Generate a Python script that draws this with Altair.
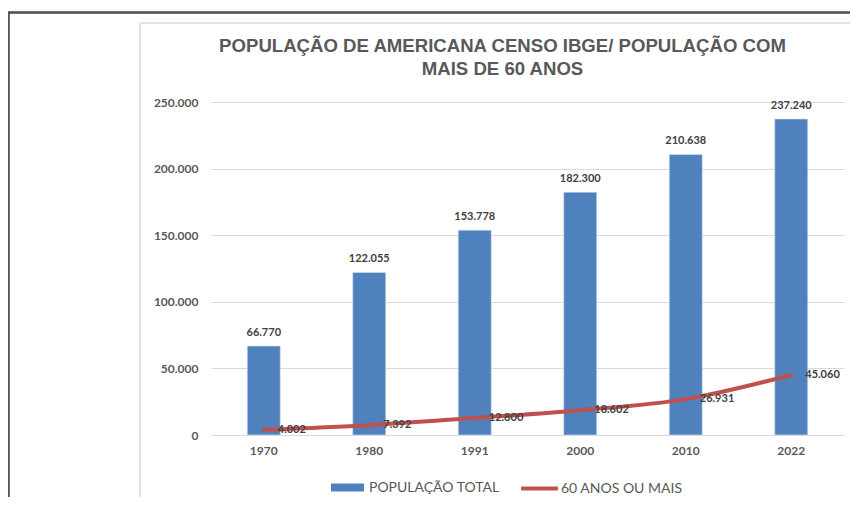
import altair as alt
import pandas as pd

anos = ["1970", "1980", "1991", "2000", "2010", "2022"]
populacao_total = [66770, 122055, 153778, 182300, 210638, 237240]
sessenta_mais = [4002, 7392, 12800, 18602, 26931, 45060]
y_ticks = [0, 50000, 100000, 150000, 200000, 250000]
titulo = ["POPULAÇÃO DE AMERICANA CENSO IBGE/ POPULAÇÃO COM", "MAIS DE 60 ANOS"]
serie_barra = "POPULAÇÃO TOTAL"
serie_linha = "60 ANOS OU MAIS"

df = pd.DataFrame({
    "ano": anos,
    "total": populacao_total,
    "idosos": sessenta_mais,
    "s_barra": [serie_barra] * len(anos),
    "s_linha": [serie_linha] * len(anos),
})

BLUE = "#4F81BD"
RED = "#C0504D"
W, H = 633, 333
PAD_R = 6

x = alt.X("ano:N", sort=anos, title=None,
          scale=alt.Scale(paddingInner=0.687, paddingOuter=0.3435),
          axis=alt.Axis(labelAngle=0, labelFont="Lato", labelFontSize=12,
                        labelFontWeight="bold", labelColor="#595959",
                        labelPadding=10, ticks=False, domainColor="#d9d9d9",
                        domainWidth=1))
y_scale = alt.Scale(domain=[0, 250000], nice=False)
y_axis = alt.Axis(values=y_ticks, format=",d", title=None, labelFont="Lato",
                  labelFontSize=12, labelFontWeight="bold", labelColor="#595959",
                  labelPadding=13, ticks=False, domain=False,
                  gridColor="#d9d9d9", gridWidth=1)

base = alt.Chart(df)

bars = base.mark_bar(stroke="#d6e2f0", strokeWidth=0.6).encode(
    x=x,
    y=alt.Y("total:Q", scale=y_scale, axis=y_axis),
    fill=alt.Fill("s_barra:N",
                  scale=alt.Scale(domain=[serie_barra], range=[BLUE]),
                  legend=alt.Legend(title=None, orient="none", legendX=120,
                                    legendY=369, symbolType="M-1,-0.24H1V0.24H-1Z",
                                    symbolSize=1089, symbolStrokeWidth=0,
                                    labelFont="Lato", labelFontSize=14,
                                    labelColor="#595959", labelOffset=5,
                                    padding=0)),
)

bar_labels = base.mark_text(font="Lato", fontSize=11, fontWeight="bold",
                            color="#404040", baseline="bottom", dy=-8).encode(
    x=x,
    y=alt.Y("total:Q", scale=y_scale),
    text=alt.Text("total:Q", format=",d"),
)

line = base.mark_line(interpolate="monotone", strokeWidth=4, strokeCap="round").encode(
    x=x,
    y=alt.Y("idosos:Q", scale=y_scale),
    stroke=alt.Stroke("s_linha:N",
                      scale=alt.Scale(domain=[serie_linha], range=[RED]),
                      legend=alt.Legend(title=None, orient="none", legendX=308,
                                        legendY=366, symbolType="stroke",
                                        symbolSize=1350, symbolStrokeWidth=4,
                                        labelFont="Lato", labelFontSize=14,
                                        labelColor="#595959", labelOffset=1,
                                        padding=0)),
)

line_labels = base.mark_text(font="Lato", fontSize=11, fontWeight="bold",
                             color="#404040", align="left", baseline="middle",
                             dx=14).encode(
    x=x,
    y=alt.Y("idosos:Q", scale=y_scale),
    text=alt.Text("idosos:Q", format=",d"),
)

# frame decorations (screenshot border and chart area border)
outer_h = base.mark_rule(color="#555555", strokeWidth=1.5).encode(
    x=alt.value(-203), x2=alt.value(W + PAD_R), y=alt.value(-89.5))
outer_v = base.mark_rule(color="#555555", strokeWidth=1.5).encode(
    x=alt.value(-202.5), y=alt.value(-89.5), y2=alt.value(H + 62))
inner_h = base.mark_rule(color="#e3e3e3", strokeWidth=1.5).encode(
    x=alt.value(-71), x2=alt.value(W + PAD_R), y=alt.value(-79))
inner_v = base.mark_rule(color="#e3e3e3", strokeWidth=1.5).encode(
    x=alt.value(-71), y=alt.value(-79), y2=alt.value(H + 62))

chart = alt.layer(
    outer_h, outer_v, inner_h, inner_v, bars, bar_labels, line, line_labels
).resolve_scale(fill="independent", stroke="independent").properties(
    width=W, height=H,
    title=alt.TitleParams(text=titulo, font="Liberation Sans", fontSize=18.6,
                          fontWeight="bold", color="#595959", lineHeight=23,
                          anchor="middle", frame="group", dx=-25, dy=91,
                          offset=24),
    autosize=alt.AutoSizeParams(type="none"),
    padding={"left": 203, "top": 94, "right": PAD_R, "bottom": 62},
).configure(
    locale={"number": {"decimal": ",", "thousands": ".", "grouping": [3],
                       "currency": ["R$", ""]}},
).configure_view(stroke=None).configure_axisX(grid=False)

chart.save("out.html", embed_options={"renderer": "svg", "actions": False})
